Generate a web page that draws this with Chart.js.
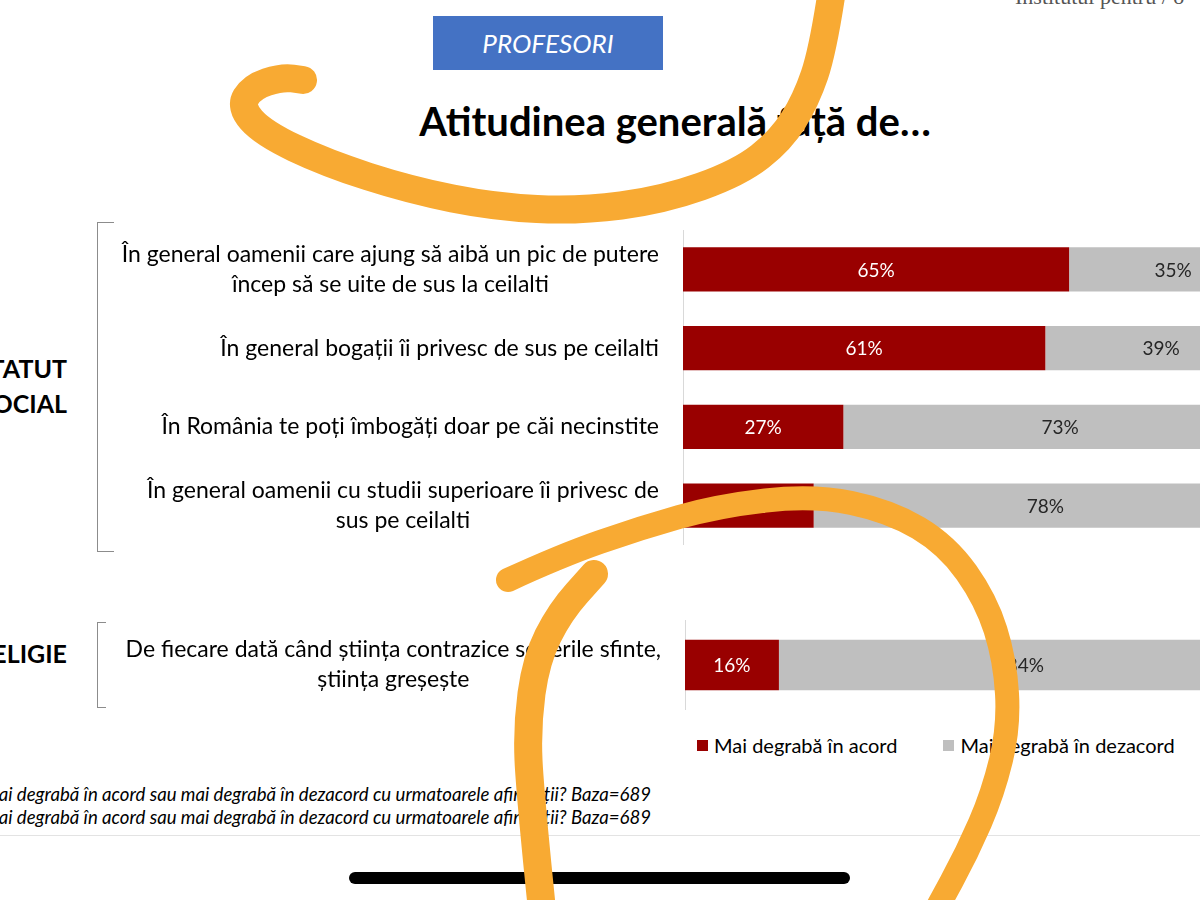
<!DOCTYPE html>
<html lang="ro">
<head>
<meta charset="utf-8">
<title>Atitudinea generală față de…</title>
<script src="https://cdn.jsdelivr.net/npm/chart.js@4.4.1/dist/chart.umd.min.js"></script>
<style>
  html, body { margin: 0; padding: 0; background: #fff; overflow: hidden; }
  #stage { position: relative; width: 1200px; height: 900px; overflow: hidden; font-family: Lato, 'Open Sans', sans-serif; color: #000; }
  .abs { position: absolute; }
  #badge { left: 433px; top: 16px; width: 230px; height: 54px; background: #4472c4; color: #fff;
           font-style: italic; font-size: 26px; display: flex; align-items: center; justify-content: center; }
  #title { left: 0; width: 1350px; top: 97px; text-align: center; font-weight: bold; font-size: 40px; white-space: nowrap; }
  #source { left: 1015px; top: -16px; font-family: 'Liberation Serif', 'DejaVu Serif', serif; font-size: 22px; color: #555; white-space: nowrap; }
  .group { right: 1133px; text-align: right; font-weight: bold; font-size: 25px; line-height: 35px; white-space: nowrap; }
  .bracket { border: 1.5px solid #8c8c8c; border-right: none; }
  .foot { right: 549px; font-style: italic; font-size: 18.6px; white-space: nowrap; color: #000; }
  #legend { left: 697px; top: 733px; display: flex; font-size: 20px; white-space: nowrap; }
  #legend span.item { display: flex; align-items: center; margin-right: 46px; }
  #legend i { display: inline-block; width: 11px; height: 11px; margin-right: 6px; }
  #slideEdge { left: 0; top: 835px; width: 1200px; height: 1px; background: #e3e3e3; }
  #homebar { left: 349px; top: 872px; width: 501px; height: 12px; border-radius: 6px; background: #000; }
  #wrapA { left: 0; top: 230px; width: 1277px; height: 315px; }
  #wrapB { left: 0; top: 620px; width: 1272px; height: 90px; }
  #ink { left: 0; top: 0; pointer-events: none; }
</style>
</head>
<body>
<div id="stage">
  <div id="source" class="abs">Institutul pentru / o</div>
  <div id="badge" class="abs">PROFESORI</div>
  <div id="title" class="abs">Atitudinea generală față de…</div>

  <div class="abs group" style="top:351px;">STATUT<br>SOCIAL</div>
  <div class="abs bracket" style="left:97px; top:222px; width:16px; height:328px;"></div>
  <div class="abs group" style="top:636px;">RELIGIE</div>
  <div class="abs bracket" style="left:97px; top:622px; width:8px; height:84px;"></div>

  <div id="wrapA" class="abs"><canvas id="chartSocial"></canvas></div>
  <div id="wrapB" class="abs"><canvas id="chartReligie"></canvas></div>

  <div id="legend" class="abs"></div>

  <div class="abs foot" style="top:783px;">Sunteți mai degrabă în acord sau mai degrabă în dezacord cu urmatoarele afirmații? Baza=689</div>
  <div class="abs foot" style="top:806px;">Sunteți mai degrabă în acord sau mai degrabă în dezacord cu urmatoarele afirmații? Baza=689</div>

  <div id="slideEdge" class="abs"></div>
  <div id="homebar" class="abs"></div>
  <canvas id="ink" class="abs" width="1200" height="900"></canvas>
</div>

<script>
// --- DADOS ---
const categoriesSocial = [
  ['În general oamenii care ajung să aibă un pic de putere', 'încep să se uite de sus la ceilalti'],
  ['În general bogații îi privesc de sus pe ceilalti'],
  ['În România te poți îmbogăți doar pe căi necinstite'],
  ['În general oamenii cu studii superioare îi privesc de', 'sus pe ceilalti']
];
const acordSocial = [65, 61, 27, 22];
const dezacordSocial = [35, 39, 73, 78];

const categoriesReligie = [
  ['De fiecare dată când știința contrazice scrierile sfinte,', 'știința greșește']
];
const acordReligie = [16];
const dezacordReligie = [84];

const seriesNames = ['Mai degrabă în acord', 'Mai degrabă în dezacord'];
const seriesColors = ['#990000', '#bfbfbf'];
const valueColors = ['#ffffff', '#262626'];

// rótulos das categorias, centrados em bloco à esquerda do eixo
const categoryLabels = {
  id: 'categoryLabels',
  afterDraw(chart) {
    const { ctx, chartArea } = chart;
    const yScale = chart.scales.y;
    ctx.save();
    ctx.font = '23px Lato';
    ctx.fillStyle = '#000';
    ctx.textAlign = 'center';
    ctx.textBaseline = 'middle';
    chart.data.labels.forEach((lines, i) => {
      const y = yScale.getPixelForValue(i);
      const w = Math.max(...lines.map(l => ctx.measureText(l).width));
      const cx = chartArea.left - 24 - w / 2;
      lines.forEach((line, k) => {
        ctx.fillText(line, cx, y + (k - (lines.length - 1) / 2) * 30);
      });
    });
    ctx.restore();
  }
};

// percentagens dentro das barras
const barValues = {
  id: 'barValues',
  afterDatasetsDraw(chart) {
    const { ctx } = chart;
    ctx.save();
    ctx.font = '19px Lato';
    ctx.textAlign = 'center';
    ctx.textBaseline = 'middle';
    chart.data.datasets.forEach((ds, di) => {
      chart.getDatasetMeta(di).data.forEach((bar, i) => {
        const { x, y, base } = bar.getProps(['x', 'y', 'base'], true);
        ctx.fillStyle = valueColors[di];
        ctx.fillText(ds.data[i] + '%', (x + base) / 2, y + 1);
      });
    });
    ctx.restore();
  }
};

function makeChart(id, labels, acord, dezacord, leftEdge) {
  return new Chart(document.getElementById(id), {
    type: 'bar',
    data: {
      labels: labels,
      datasets: [
        { label: seriesNames[0], data: acord, backgroundColor: seriesColors[0] },
        { label: seriesNames[1], data: dezacord, backgroundColor: seriesColors[1] }
      ]
    },
    options: {
      indexAxis: 'y',
      responsive: true,
      maintainAspectRatio: false,
      animation: false,
      layout: { padding: 0 },
      datasets: { bar: { categoryPercentage: 1, barPercentage: 0.56 } },
      plugins: { legend: { display: false }, tooltip: { enabled: false } },
      scales: {
        x: { stacked: true, min: 0, max: 100, display: false },
        y: {
          stacked: true,
          grid: { display: false },
          border: { color: '#d9d9d9', width: 1 },
          ticks: { display: false },
          afterFit(scale) { scale.width = leftEdge; }
        }
      }
    },
    plugins: [categoryLabels, barValues]
  });
}

makeChart('chartSocial', categoriesSocial, acordSocial, dezacordSocial, 683);
makeChart('chartReligie', categoriesReligie, acordReligie, dezacordReligie, 685);

// legenda
const legend = document.getElementById('legend');
seriesNames.forEach((name, i) => {
  const item = document.createElement('span');
  item.className = 'item';
  item.innerHTML = '<i style="background:' + seriesColors[i] + '"></i>' + name;
  legend.appendChild(item);
});

// marcações a caneta (laranja) por cima do slide
function stroke(ctx, pts, width) {
  ctx.lineWidth = width;
  ctx.beginPath();
  ctx.moveTo(pts[0][0], pts[0][1]);
  for (let i = 1; i < pts.length - 1; i++) {
    const mx = (pts[i][0] + pts[i + 1][0]) / 2;
    const my = (pts[i][1] + pts[i + 1][1]) / 2;
    ctx.quadraticCurveTo(pts[i][0], pts[i][1], mx, my);
  }
  const last = pts[pts.length - 1];
  ctx.lineTo(last[0], last[1]);
  ctx.stroke();
}

const ink = document.getElementById('ink').getContext('2d');
ink.strokeStyle = '#f8aa33';
ink.lineCap = 'round';
ink.lineJoin = 'round';
stroke(ink, [[832, -10], [823, 50], [806, 100], [781, 140], [739, 173], [663, 200], [579, 211],
             [495, 207], [410, 190], [326, 163], [263, 133], [240, 107], [252, 87], [282, 77], [303, 80]], 28);
stroke(ink, [[542, 910], [530, 793], [527, 727], [536, 660], [560, 612], [594, 574]], 28);
stroke(ink, [[508, 580], [560, 556], [640, 528], [718, 506], [813, 495], [890, 511], [947, 545], [986, 600],
             [1005, 660], [1009, 727], [993, 793], [967, 853], [936, 910]], 24);
</script>
</body>
</html>
